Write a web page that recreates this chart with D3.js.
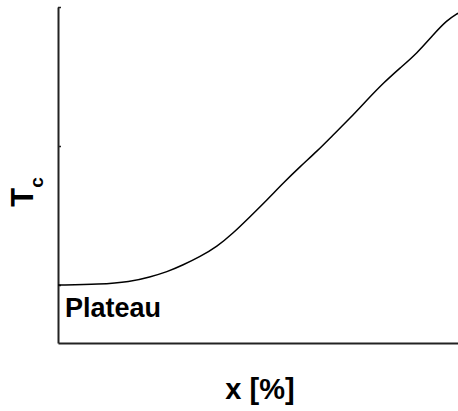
<!DOCTYPE html>
<html>
<head>
<meta charset="utf-8">
<script src="https://cdn.jsdelivr.net/npm/d3@7"></script>
<style>
  body { margin: 0; background: #fff; }
  text { font-family: "Liberation Sans", Arial, sans-serif; font-weight: bold; fill: #000; }
</style>
</head>
<body>
<div id="chart"></div>
<script>
// x in %, Tc in arbitrary units (plateau level = 0)
var xValues = [0, 10.5, 18, 23, 27.25, 31.25, 35.5, 39.75, 43.75, 48, 52.25, 56.25, 60.5, 64.75, 68.75, 73, 77.25, 81.25, 85.5, 89.75, 93.75, 97.25, 100];
var tcValues = [0, 0.004, 0.022, 0.058, 0.094, 0.144, 0.204, 0.276, 0.372, 0.491, 0.612, 0.732, 0.851, 0.962, 1.079, 1.199, 1.331, 1.451, 1.561, 1.667, 1.799, 1.906, 1.955];
var yTicks = [0, 1, 2];

var width = 458, height = 411;
var margin = {top: 7, right: 0, bottom: 68, left: 58};

var svg = d3.select("#chart")
  .append("svg")
  .attr("width", width)
  .attr("height", height);

var x = d3.scaleLinear()
  .domain([0, 100])
  .range([margin.left, width - margin.right]);

var y = d3.scaleLinear()
  .domain([-58 / 139, 2])
  .range([height - margin.bottom, margin.top]);

// axes, no labels on ticks
svg.append("g")
  .attr("transform", "translate(0," + (height - margin.bottom) + ")")
  .call(d3.axisBottom(x).ticks(0).tickSizeOuter(0))
  .call(function(g){ g.select(".domain").attr("stroke", "#222").attr("stroke-width", 2); });

svg.append("g")
  .attr("transform", "translate(" + margin.left + ",0)")
  .call(d3.axisLeft(y).tickValues(yTicks).tickSizeInner(-3).tickSizeOuter(0).tickFormat(""))
  .call(function(g){
    g.select(".domain").attr("stroke", "#222").attr("stroke-width", 2);
    g.selectAll(".tick line").attr("stroke", "#222").attr("stroke-width", 1.5);
  });

var line = d3.line()
  .x(function(d, i){ return x(xValues[i]); })
  .y(function(d){ return y(d); })
  .curve(d3.curveBasis);

svg.append("path")
  .datum(tcValues)
  .attr("fill", "none")
  .attr("stroke", "#000")
  .attr("stroke-width", 1.5)
  .attr("d", line);

svg.append("text")
  .attr("x", 65)
  .attr("y", 317)
  .style("font-size", "27px")
  .text("Plateau");

svg.append("text")
  .attr("x", 260)
  .attr("y", 399)
  .attr("text-anchor", "middle")
  .style("font-size", "29px")
  .text("x [%]");

var ylab = svg.append("text")
  .attr("transform", "translate(33,192) rotate(-90)")
  .attr("text-anchor", "middle")
  .style("font-size", "31px");
ylab.append("tspan").text("T");
ylab.append("tspan").attr("dy", 10).style("font-size", "19px").text("c");
</script>
</body>
</html>
